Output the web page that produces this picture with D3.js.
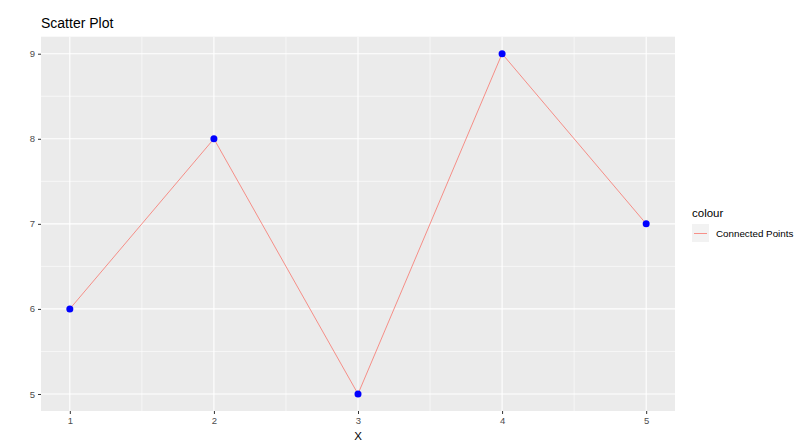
<!DOCTYPE html>
<html>
<head>
<meta charset="utf-8">
<script src="https://cdn.jsdelivr.net/npm/d3@7"></script>
<style>
  body { margin: 0; background: #fff; }
  text { font-family: "Liberation Sans", Arial, sans-serif; }
</style>
</head>
<body>
<svg id="chart" width="812" height="448"></svg>
<script>
const xs = [1, 2, 3, 4, 5];
const ys = [6, 8, 5, 9, 7];
const x_ticks = [1, 2, 3, 4, 5];
const y_ticks = [5, 6, 7, 8, 9];
const x_minor = [1.5, 2.5, 3.5, 4.5];
const y_minor = [5.5, 6.5, 7.5, 8.5];
const legend_label = "Connected Points";

const points = xs.map((v, i) => ({x: v, y: ys[i]}));

const svg = d3.select("#chart");
const panel = {left: 41, top: 36.7, right: 675, bottom: 411};

const x = d3.scaleLinear().domain([0.8, 5.2]).range([panel.left, panel.right]);
const y = d3.scaleLinear().domain([4.8, 9.2]).range([panel.bottom, panel.top]);

// panel background
svg.append("rect")
    .attr("x", panel.left).attr("y", panel.top)
    .attr("width", panel.right - panel.left)
    .attr("height", panel.bottom - panel.top)
    .attr("fill", "#EBEBEB");

const grid = svg.append("g");
// minor grid
grid.selectAll(".vmin").data(x_minor).enter().append("line")
    .attr("x1", d => x(d)).attr("x2", d => x(d))
    .attr("y1", panel.top).attr("y2", panel.bottom)
    .attr("stroke", "#fff").attr("stroke-width", 0.6);
grid.selectAll(".hmin").data(y_minor).enter().append("line")
    .attr("y1", d => y(d)).attr("y2", d => y(d))
    .attr("x1", panel.left).attr("x2", panel.right)
    .attr("stroke", "#fff").attr("stroke-width", 0.6);
// major grid
grid.selectAll(".vmaj").data(x_ticks).enter().append("line")
    .attr("x1", d => x(d)).attr("x2", d => x(d))
    .attr("y1", panel.top).attr("y2", panel.bottom)
    .attr("stroke", "#fff").attr("stroke-width", 1.1);
grid.selectAll(".hmaj").data(y_ticks).enter().append("line")
    .attr("y1", d => y(d)).attr("y2", d => y(d))
    .attr("x1", panel.left).attr("x2", panel.right)
    .attr("stroke", "#fff").attr("stroke-width", 1.1);

// axes
const xAxis = svg.append("g")
    .attr("transform", `translate(0,${panel.bottom})`)
    .call(d3.axisBottom(x).tickValues(x_ticks).tickSize(3).tickPadding(3).tickFormat(d3.format("d")));
const yAxis = svg.append("g")
    .attr("transform", `translate(${panel.left},0)`)
    .call(d3.axisLeft(y).tickValues(y_ticks).tickSize(3).tickPadding(3).tickFormat(d3.format("d")));
[xAxis, yAxis].forEach(a => {
    a.select(".domain").remove();
    a.selectAll(".tick line").attr("stroke", "#333").attr("stroke-width", 1);
    a.selectAll(".tick text").attr("fill", "#4D4D4D").attr("font-size", "9.5px")
        .style("font-family", "Liberation Sans, Arial, sans-serif");
});

// connecting line
const line = d3.line().x(d => x(d.x)).y(d => y(d.y));
svg.append("path")
    .datum(points)
    .attr("d", line)
    .attr("fill", "none")
    .attr("stroke", "#F8766D")
    .attr("stroke-width", 0.8);

// points
svg.append("g").selectAll("circle")
    .data(points)
    .enter().append("circle")
    .attr("cx", d => x(d.x))
    .attr("cy", d => y(d.y))
    .attr("r", 3.5)
    .attr("fill", "#0000FF");

// title
svg.append("text")
    .attr("x", panel.left).attr("y", 28)
    .attr("font-size", "14px").attr("fill", "#000")
    .text("Scatter Plot");

// x axis title
svg.append("text")
    .attr("x", (panel.left + panel.right) / 2).attr("y", 440)
    .attr("text-anchor", "middle")
    .attr("font-size", "11.5px").attr("fill", "#000")
    .text("X");

// legend
const lg = svg.append("g").attr("transform", "translate(692,0)");
lg.append("text").attr("x", 0).attr("y", 217)
    .attr("font-size", "11.5px").attr("fill", "#000").text("colour");
lg.append("rect").attr("x", 0).attr("y", 224).attr("width", 17).attr("height", 18)
    .attr("fill", "#F2F2F2");
lg.append("line").attr("x1", 2).attr("x2", 15).attr("y1", 233.5).attr("y2", 233.5)
    .attr("stroke", "#F8766D").attr("stroke-width", 0.8);
lg.append("text").attr("x", 24).attr("y", 237)
    .attr("font-size", "9.8px").attr("fill", "#000").text(legend_label);
</script>
</body>
</html>
